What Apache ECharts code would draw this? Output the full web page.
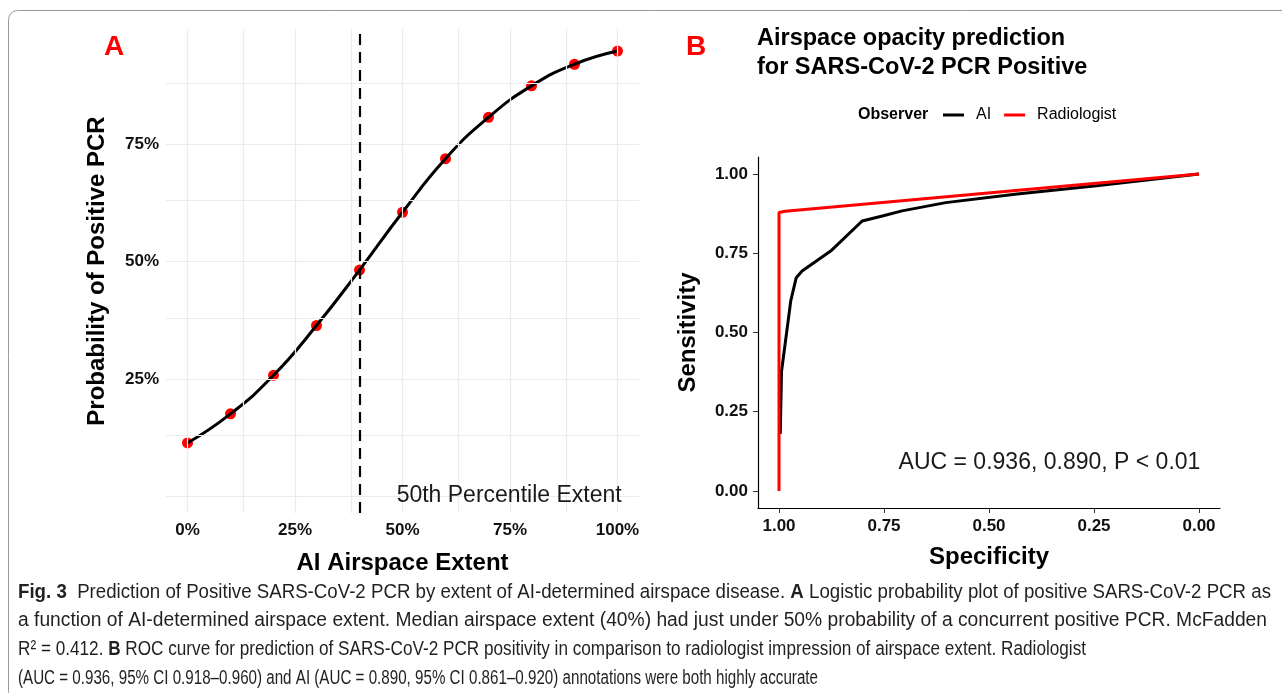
<!DOCTYPE html>
<html>
<head>
<meta charset="utf-8">
<script src="https://cdn.jsdelivr.net/npm/echarts@6/dist/echarts.min.js"></script>
<style>
  html, body { margin: 0; padding: 0; background: #fff; }
  #chart { width: 1282px; height: 693px; }
</style>
</head>
<body>
<div id="chart"></div>
<script>
// panel A: logistic fit, probability of positive PCR vs AI airspace extent
const extent = [0, 0.1, 0.2, 0.3, 0.4, 0.5, 0.6, 0.7, 0.8, 0.9, 1.0]
const probPositive = [0.114, 0.176, 0.258, 0.364, 0.482, 0.605, 0.719, 0.807, 0.874, 0.92, 0.948]
const medianExtent = 0.4
const extentTicks = [0, 0.25, 0.5, 0.75, 1]
const probTicks = [0.25, 0.5, 0.75]
const extentGrid = [0, 0.125, 0.25, 0.375, 0.5, 0.625, 0.75, 0.875, 1]
const probGrid = [0, 0.125, 0.25, 0.375, 0.5, 0.625, 0.75, 0.875]

// panel B: ROC curves
const aiSpec = [0.997, 0.994, 0.972, 0.959, 0.945, 0.877, 0.802, 0.754, 0.707, 0.603, 0.433, 0.244, 0]
const aiSens = [0.18, 0.377, 0.6, 0.673, 0.694, 0.757, 0.852, 0.868, 0.884, 0.91, 0.937, 0.963, 1]
const radSpec = [1, 1, 0.985, 0]
const radSens = [0, 0.879, 0.883, 1]
const rocTicks = [0, 0.25, 0.5, 0.75, 1]

const captionLines = [
  '{b|Fig. 3}  Prediction of Positive SARS-CoV-2 PCR by extent of AI-determined airspace disease. {b|A} Logistic probability plot of positive SARS-CoV-2 PCR as',
  'a function of AI-determined airspace extent. Median airspace extent (40%) had just under 50% probability of a concurrent positive PCR. McFadden',
  'R² = 0.412. {b|B} ROC curve for prediction of SARS-CoV-2 PCR positivity in comparison to radiologist impression of airspace extent. Radiologist',
  '(AUC = 0.936, 95% CI 0.918–0.960) and AI (AUC = 0.890, 95% CI 0.861–0.920) annotations were both highly accurate'
]

const font = 'Liberation Sans'
const pct = v => Math.round(v * 100) + '%'

// caption is set in a condensed face in the original, squeeze each line to its width
const captionSize = 20
const captionLeft = 18
const captionRight = [1271, 1267, 1086, 818]

function lineScale(line, right) {
  let ctx = document.createElement('canvas').getContext('2d')
  let w = 0
  line.split(/(\{b\|[^}]*\})/).forEach(part => {
    let m = part.match(/^\{b\|([^}]*)\}$/)
    ctx.font = (m ? 'bold ' : '') + captionSize + 'px "' + font + '"'
    w += ctx.measureText(m ? m[1] : part).width
  })
  return (right - captionLeft) / w
}

function main() {
  var chart = echarts.init(document.getElementById('chart'), null, {renderer: 'canvas'})

  let gridLine = {color: '#ebebeb', width: 1.2, type: 'solid'}
  let axisName = {color: '#000', fontSize: 24, fontWeight: 'bold', fontFamily: font}
  let tickLabel = {color: '#111', fontSize: 17, fontWeight: 'bold', fontFamily: font}

  let option = {
    animation: false,
    textStyle: {fontFamily: font},
    title: [
      {text: 'A', left: 104, top: 33, padding: 0,
        textStyle: {color: '#ff0000', fontSize: 28, fontWeight: 'bold', fontFamily: font}},
      {text: 'B', left: 686, top: 33, padding: 0,
        textStyle: {color: '#ff0000', fontSize: 28, fontWeight: 'bold', fontFamily: font}},
      {text: 'Airspace opacity prediction\nfor SARS-CoV-2 PCR Positive', left: 757, top: 24, padding: 0,
        textStyle: {color: '#000', fontSize: 23.5, fontWeight: 'bold', lineHeight: 29, fontFamily: font}},
      {text: 'Observer', left: 858, top: 107, padding: 0,
        textStyle: {color: '#000', fontSize: 16, fontWeight: 'bold', lineHeight: 16, fontFamily: font}}
    ],
    legend: {
      data: ['AI', 'Radiologist'],
      left: 943,
      top: 107,
      padding: 0,
      icon: 'rect',
      itemWidth: 21,
      itemHeight: 3,
      itemGap: 13,
      textStyle: {color: '#000', fontSize: 16, fontFamily: font, padding: [0, 0, 0, 7]}
    },
    grid: [
      {left: 166, top: 29, width: 473, height: 484},
      {left: 758, top: 157, width: 462, height: 351}
    ],
    xAxis: [
      {
        gridIndex: 0, type: 'value', min: -0.05, max: 1.05,
        name: 'AI Airspace Extent', nameLocation: 'middle', nameGap: 38, nameTextStyle: axisName,
        axisLine: {show: false}, axisTick: {show: false}, splitLine: {show: false},
        axisLabel: {customValues: extentTicks, formatter: pct, margin: 9, ...tickLabel}
      },
      {
        gridIndex: 1, type: 'value', min: -0.05, max: 1.05, inverse: true,
        name: 'Specificity', nameLocation: 'middle', nameGap: 37, nameTextStyle: axisName,
        axisLine: {show: true, onZero: false, lineStyle: {color: '#000', width: 1.2}},
        axisTick: {show: true, customValues: rocTicks, length: 5, lineStyle: {color: '#333'}},
        splitLine: {show: false},
        axisLabel: {customValues: rocTicks, formatter: v => v.toFixed(2), margin: 10, ...tickLabel}
      }
    ],
    yAxis: [
      {
        gridIndex: 0, type: 'value', min: -0.035, max: 0.995,
        name: 'Probability of Positive PCR', nameLocation: 'middle', nameGap: 57, nameTextStyle: axisName,
        axisLine: {show: false}, axisTick: {show: false}, splitLine: {show: false},
        axisLabel: {customValues: probTicks, formatter: pct, margin: 7, ...tickLabel}
      },
      {
        gridIndex: 1, type: 'value', min: -0.054, max: 1.054,
        name: 'Sensitivity', nameLocation: 'middle', nameGap: 58, nameTextStyle: axisName,
        axisLine: {show: true, onZero: false, lineStyle: {color: '#000', width: 1.2}},
        axisTick: {show: true, customValues: rocTicks, length: 5, lineStyle: {color: '#333'}},
        splitLine: {show: false},
        axisLabel: {customValues: rocTicks, formatter: v => v.toFixed(2), margin: 10, ...tickLabel}
      }
    ],
    series: [
      {
        // panel A grid lines (major + minor)
        type: 'line', xAxisIndex: 0, yAxisIndex: 0, data: [], z: 1, silent: true,
        markLine: {
          silent: true, symbol: 'none', label: {show: false}, lineStyle: gridLine,
          data: extentGrid.map(v => ({xAxis: v})).concat(probGrid.map(v => ({yAxis: v})))
        }
      },
      {
        type: 'scatter', xAxisIndex: 0, yAxisIndex: 0, z: 2,
        data: extent.map((x, i) => [x, probPositive[i]]),
        symbolSize: 11,
        itemStyle: {color: '#ff0000', opacity: 1},
        markLine: {
          silent: true, symbol: 'none', label: {show: false},
          lineStyle: {color: '#000', width: 2.2, type: [11, 7]},
          data: [{xAxis: medianExtent}]
        },
        markPoint: {
          silent: true, symbol: 'circle', symbolSize: 0,
          label: {show: true, position: 'inside', formatter: '50th Percentile Extent',
            color: '#1a1a1a', fontSize: 23, fontFamily: font},
          data: [{coord: [0.748, 0.002]}]
        }
      },
      {
        type: 'line', xAxisIndex: 0, yAxisIndex: 0, z: 3,
        data: extent.map((x, i) => [x, probPositive[i]]),
        smooth: true, symbol: 'none',
        lineStyle: {color: '#000', width: 3}
      },
      {
        name: 'AI', type: 'line', xAxisIndex: 1, yAxisIndex: 1, z: 3,
        data: aiSpec.map((x, i) => [x, aiSens[i]]),
        symbol: 'none', color: '#000',
        lineStyle: {color: '#000', width: 3}
      },
      {
        name: 'Radiologist', type: 'line', xAxisIndex: 1, yAxisIndex: 1, z: 4,
        data: radSpec.map((x, i) => [x, radSens[i]]),
        symbol: 'none', color: '#ff0000',
        lineStyle: {color: '#ff0000', width: 3},
        markPoint: {
          silent: true, symbol: 'circle', symbolSize: 0,
          label: {show: true, position: 'inside', formatter: 'AUC = 0.936, 0.890, P < 0.01',
            color: '#1a1a1a', fontSize: 23, fontFamily: font},
          data: [{coord: [0.356, 0.089]}]
        }
      }
    ],
    graphic: [
      {
        type: 'rect', silent: true, z: 0,
        shape: {x: 8.5, y: 10.5, width: 1300, height: 690, r: 9},
        style: {fill: 'none', stroke: '#9a9a9a', lineWidth: 1}
      }
    ].concat(captionLines.map((t, i) => ({
      type: 'text', x: captionLeft, y: 592 + i * 28.7, scaleX: lineScale(t, captionRight[i]), silent: true,
      style: {
        text: t, fill: '#231f20', fontSize: captionSize, fontFamily: font, verticalAlign: 'middle',
        rich: {b: {fontWeight: 'bold', fontSize: captionSize, fontFamily: font, fill: '#231f20'}}
      }
    })))
  }
  chart.setOption(option)
}

main()
</script>
</body>
</html>
